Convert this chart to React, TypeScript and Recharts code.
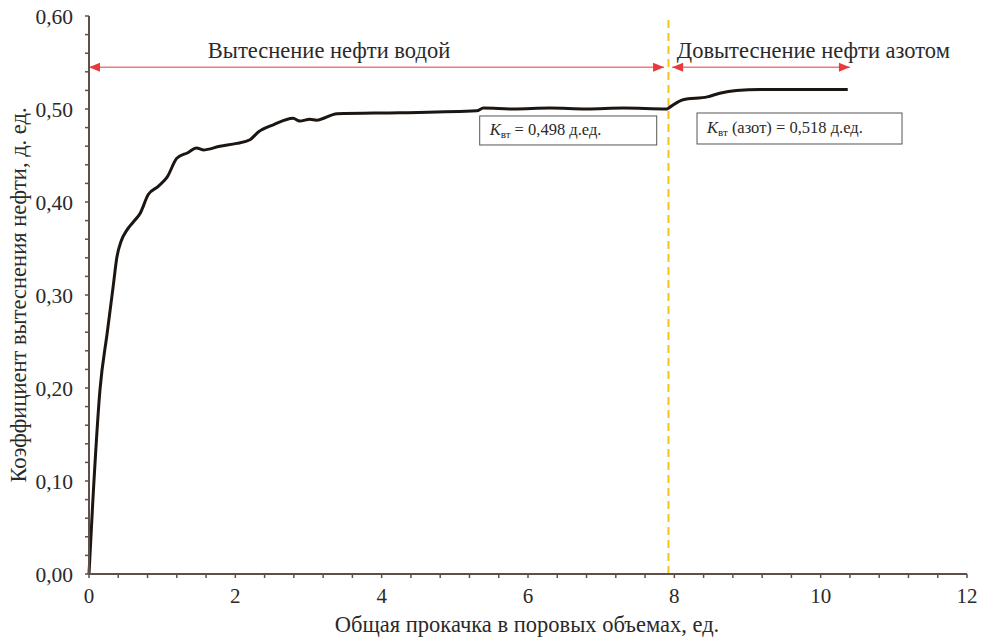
import React from 'react'
import { LineChart, Line, XAxis, YAxis, ReferenceLine, ReferenceDot } from 'recharts'

// общая прокачка, поровые объемы
const pumpedVolumes = [
  0, 0.05, 0.15, 0.25, 0.33, 0.38, 0.44, 0.52, 0.6, 0.7, 0.81, 0.95, 1.07, 1.2, 1.35, 1.47, 1.56, 1.79,
  2.02, 2.2, 2.31, 2.52, 2.79, 2.88, 3.02, 3.11, 3.39, 4.25, 5.3, 5.39, 5.8, 6.3, 6.8,
  7.3, 7.9, 7.94, 8.12, 8.45, 8.62, 8.85, 9.17, 10.37,
]
// коэффициент вытеснения
const displacement = [
  0, 0.075, 0.198, 0.26, 0.309, 0.34, 0.358, 0.37, 0.378, 0.388, 0.408, 0.417, 0.427, 0.447, 0.453, 0.458, 0.456, 0.46,
  0.463, 0.467, 0.475, 0.483, 0.49, 0.487, 0.489, 0.488, 0.495, 0.496, 0.498, 0.501, 0.5, 0.501, 0.5,
  0.501, 0.5, 0.502, 0.51, 0.513, 0.517, 0.52, 0.521, 0.521,
]

const xMajorTicks = [0, 2, 4, 6, 8, 10, 12]
const yMajorTicks = [0, 0.1, 0.2, 0.3, 0.4, 0.5, 0.6]
const xMinorTicks = Array.from({ length: 31 }, (_, i) => +(i * 0.4).toFixed(1))
const yMinorTicks = Array.from({ length: 31 }, (_, i) => +(i * 0.02).toFixed(2))

const nitrogenStart = 7.92
const arrowLevel = 0.545
const waterStage = { from: 0, to: 7.86, label: 'Вытеснение нефти водой', labelX: 3.28 }
const nitrogenStage = { from: 7.97, to: 10.4, label: 'Довытеснение нефти азотом', labelX: 9.9 }
const kWater = { value: '0,498', x: 5.34, y: 0.4925 }
const kNitrogen = { value: '0,518', x: 8.31, y: 0.4957 }

const data = pumpedVolumes.map((v, i) => ({ v, k: displacement[i] }))

const FONT = '"Liberation Serif", "Times New Roman", serif'
const AXIS = '#5e5048'
const TEXT = '#2a2a2a'

const fmtY = (v: number) => v.toFixed(2).replace('.', ',')
const isMajor = (v: number, list: number[]) => list.some((m) => Math.abs(m - v) < 1e-6)

function XTick({ x, y, payload }: any) {
  if (!isMajor(payload.value, xMajorTicks)) return null
  return (
    <text x={x} y={y} dy="0.71em" textAnchor="middle" fontSize={21} fill={TEXT} fontFamily={FONT}>
      {payload.value}
    </text>
  )
}

function YTick({ x, y, payload }: any) {
  if (!isMajor(payload.value, yMajorTicks)) return null
  return (
    <text x={x} y={y} dy="0.35em" textAnchor="end" fontSize={21.5} fill={TEXT} fontFamily={FONT}>
      {fmtY(payload.value)}
    </text>
  )
}

function Arrow({ x1, y1, x2, y2, left, right }: any) {
  const y = y1
  const L = 11
  const H = 4.5
  return (
    <g>
      <line x1={x1} y1={y} x2={x2} y2={y2} stroke="#f07a7a" strokeWidth={1.5} />
      {left && <polygon points={`${x1},${y} ${x1 + L},${y - H} ${x1 + L},${y + H}`} fill="#e8393c" />}
      {right && <polygon points={`${x2},${y} ${x2 - L},${y - H} ${x2 - L},${y + H}`} fill="#e8393c" />}
    </g>
  )
}

const stageTitle = (text: string) => (props: any) => (
  <text x={props.cx} y={props.cy} textAnchor="middle" fontSize={22.5} fill={TEXT} fontFamily={FONT}>
    {text}
  </text>
)

const kBox = (value: string, nitrogen: boolean, w: number, h: number) => (props: any) => (
  <g>
    <rect x={props.cx} y={props.cy} width={w} height={h} fill="#fff" stroke="#555" strokeWidth={1} />
    <text x={props.cx + 10} y={props.cy + h / 2 + 5} fontSize={16.5} fill={TEXT} fontFamily={FONT}>
      <tspan fontStyle="italic">K</tspan>
      <tspan fontSize={11} dy={3}>вт</tspan>
      <tspan dy={-3}>{nitrogen ? ' (азот) = ' : ' = '}{value} д.ед.</tspan>
    </text>
  </g>
)

export default function App() {
  return (
    <div style={{ position: 'fixed', left: 0, top: 0, background: '#fff' }}>
      <LineChart
        width={987}
        height={639}
        data={data}
        margin={{ top: 16, right: 20, left: 0, bottom: 0 }}
      >
        <XAxis
          dataKey="v"
          type="number"
          domain={[0, 12]}
          ticks={xMinorTicks}
          interval={0}
          tick={<XTick />}
          tickSize={4}
          tickMargin={10}
          height={65}
          stroke={AXIS}
          strokeWidth={2}
          tickLine={{ stroke: AXIS, strokeWidth: 1.5 }}
          label={{
            content: ({ viewBox }: any) => (
              <text
                x={viewBox.x + viewBox.width / 2 - 1}
                y={viewBox.y + 58}
                textAnchor="middle"
                fontSize={22.5}
                fill={TEXT}
                fontFamily={FONT}
              >
                Общая прокачка в поровых объемах, ед.
              </text>
            ),
          }}
        />
        <YAxis
          type="number"
          domain={[0, 0.6]}
          ticks={yMinorTicks}
          interval={0}
          tick={<YTick />}
          tickSize={4}
          tickMargin={12}
          width={89}
          stroke={AXIS}
          strokeWidth={2}
          tickLine={{ stroke: AXIS, strokeWidth: 1.5 }}
          label={{
            content: ({ viewBox }: any) => {
              const cx = 18
              const cy = viewBox.y + viewBox.height / 2
              return (
                <text
                  x={cx}
                  y={cy}
                  transform={`rotate(-90 ${cx} ${cy})`}
                  textAnchor="middle"
                  dominantBaseline="central"
                  fontSize={22.5}
                  fill={TEXT}
                  fontFamily={FONT}
                >
                  Коэффициент вытеснения нефти, д. ед.
                </text>
              )
            },
          }}
        />
        <ReferenceLine
          x={nitrogenStart}
          stroke="#f4c21c"
          strokeWidth={2}
          strokeDasharray="8 5"
        />
        <ReferenceLine
          segment={[{ x: waterStage.from, y: arrowLevel }, { x: waterStage.to, y: arrowLevel }]}
          shape={(p: any) => <Arrow {...p} left right />}
        />
        <ReferenceLine
          segment={[{ x: nitrogenStage.from, y: arrowLevel }, { x: nitrogenStage.to, y: arrowLevel }]}
          shape={(p: any) => <Arrow {...p} left right />}
        />
        <ReferenceDot x={waterStage.labelX} y={0.555} r={0} shape={stageTitle(waterStage.label)} />
        <ReferenceDot x={nitrogenStage.labelX} y={0.555} r={0} shape={stageTitle(nitrogenStage.label)} />
        <Line
          dataKey="k"
          type="monotone"
          stroke="#1c1612"
          strokeWidth={3}
          dot={false}
          isAnimationActive={false}
        />
        <ReferenceDot x={kWater.x} y={kWater.y} r={0} shape={kBox(kWater.value, false, 177, 29)} />
        <ReferenceDot x={kNitrogen.x} y={kNitrogen.y} r={0} shape={kBox(kNitrogen.value, true, 205, 31)} />
      </LineChart>
    </div>
  )
}
